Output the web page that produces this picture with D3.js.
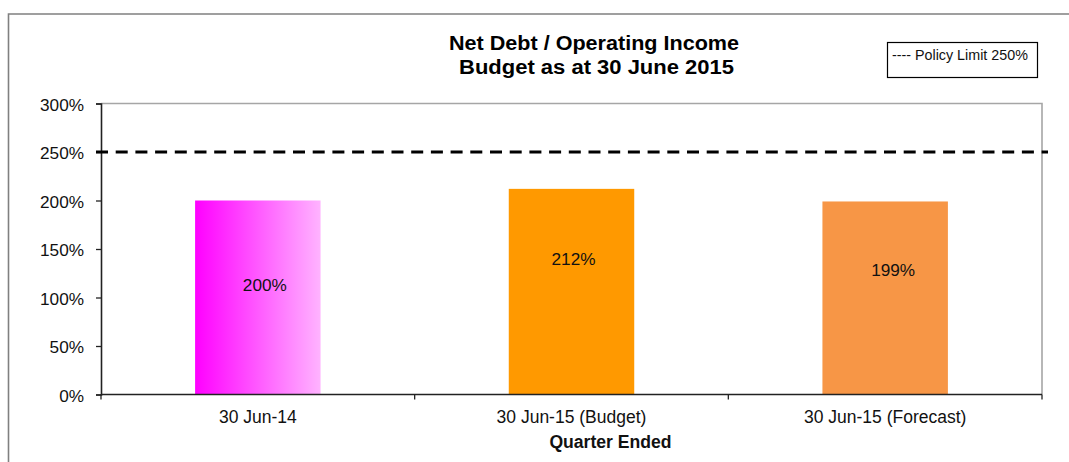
<!DOCTYPE html>
<html>
<head>
<meta charset="utf-8">
<script src="https://cdn.jsdelivr.net/npm/d3@7"></script>
<style>
  html, body { margin: 0; padding: 0; background: #fff; }
  svg { display: block; font-family: "Liberation Sans", Arial, sans-serif; }
</style>
</head>
<body>
<svg id="chart" width="1069" height="462"></svg>
<script>
// Net debt as a share of operating income, by quarter
const categories = ["30 Jun-14", "30 Jun-15 (Budget)", "30 Jun-15 (Forecast)"];
const ratios = [200, 212, 199];           // percent
const policyLimit = 250;                  // percent
const yTicks = [0, 50, 100, 150, 200, 250, 300];
const titleLines = ["Net Debt / Operating Income", "Budget as at 30 June 2015"];
const xAxisTitle = "Quarter Ended";
const legendText = "---- Policy Limit 250%";

const svg = d3.select("#chart");
const plot = { left: 101, top: 103.5, right: 1042, bottom: 394.5 };

// outer chart frame (runs past the right and bottom edges of the view)
svg.append("path")
  .attr("d", "M8.5,470 V14 H1080")
  .attr("fill", "none").attr("stroke", "#808080").attr("stroke-width", 1.6);

const x = d3.scaleBand().domain(categories).range([plot.left, plot.right]).padding(0);
const y = d3.scaleLinear().domain([0, 300]).range([plot.bottom, plot.top]);

// plot area border: light top and right edges
svg.append("path")
  .attr("d", `M${plot.left},${plot.top} H${plot.right} V${plot.bottom}`)
  .attr("fill", "none").attr("stroke", "#a6a6a6").attr("stroke-width", 1.6);

// first bar gets a horizontal magenta fade
const defs = svg.append("defs");
const grad = defs.append("linearGradient").attr("id", "fadeMagenta")
  .attr("x1", "0%").attr("x2", "100%").attr("y1", "0%").attr("y2", "0%");
grad.append("stop").attr("offset", "0%").attr("stop-color", "#ff00ff");
grad.append("stop").attr("offset", "100%").attr("stop-color", "#ffb3ff");
const fills = ["url(#fadeMagenta)", "#ff9900", "#f79646"];

const barW = x.bandwidth() * 0.4;
svg.append("g").selectAll("rect").data(ratios).join("rect")
  .attr("x", (d, i) => x(categories[i]) + (x.bandwidth() - barW) / 2)
  .attr("y", d => y(d))
  .attr("width", barW)
  .attr("height", d => y(0) - y(d))
  .attr("fill", (d, i) => fills[i]);

// value labels inside bars (offsets from bar centre / bar top)
const labelDx = [7, 2, 8];
const labelDy = [90, 76, 75];
svg.append("g").selectAll("text").data(ratios).join("text")
  .attr("x", (d, i) => x(categories[i]) + x.bandwidth() / 2 + labelDx[i])
  .attr("y", (d, i) => y(d) + labelDy[i])
  .attr("text-anchor", "middle")
  .attr("font-size", 17.2).attr("fill", "#111")
  .text(d => d + "%");

// y axis
const yAxis = svg.append("g").attr("transform", `translate(${plot.left},0)`)
  .call(d3.axisLeft(y).tickValues(yTicks).tickFormat(d => d + "%").tickSize(5).tickPadding(12));
yAxis.select(".domain").attr("stroke", "#222").attr("stroke-width", 1.6);
yAxis.selectAll(".tick line").attr("stroke", "#222").attr("stroke-width", 1.3);
yAxis.selectAll(".tick text").attr("font-size", 17.2).attr("fill", "#111")
  .attr("font-family", "Liberation Sans, Arial, sans-serif").attr("dy", "0.38em");

// x axis: ticks at category boundaries
svg.append("line")
  .attr("x1", plot.left).attr("x2", plot.right).attr("y1", plot.bottom).attr("y2", plot.bottom)
  .attr("stroke", "#222").attr("stroke-width", 1.6);
const bounds = categories.map(c => x(c)).concat([x(categories[categories.length - 1]) + x.bandwidth()]);
svg.append("g").selectAll("line").data(bounds).join("line")
  .attr("x1", d => d).attr("x2", d => d)
  .attr("y1", plot.bottom).attr("y2", plot.bottom + 5)
  .attr("stroke", "#222").attr("stroke-width", 1.3);
svg.append("g").selectAll("text").data(categories).join("text")
  .attr("x", d => x(d) + x.bandwidth() / 2)
  .attr("y", plot.bottom + 28.5)
  .attr("text-anchor", "middle")
  .attr("font-size", 17.5).attr("fill", "#111")
  .text(d => d);

svg.append("text")
  .attr("x", 610.5).attr("y", 447.5)
  .attr("text-anchor", "middle")
  .attr("font-size", 17.6).attr("font-weight", "bold").attr("fill", "#111")
  .text(xAxisTitle);

// policy limit line
svg.append("line")
  .attr("x1", 96).attr("x2", 1048)
  .attr("y1", y(policyLimit)).attr("y2", y(policyLimit))
  .attr("stroke", "#000").attr("stroke-width", 3)
  .attr("stroke-dasharray", "12,7.7");

// title
const titleWidths = [290, 275];
svg.append("g").selectAll("text").data(titleLines).join("text")
  .attr("x", (d, i) => i === 0 ? 449 : 459)
  .attr("y", (d, i) => i === 0 ? 50 : 74)
  .attr("font-size", 19.5).attr("font-weight", "bold").attr("fill", "#000")
  .attr("textLength", (d, i) => titleWidths[i])
  .attr("lengthAdjust", "spacingAndGlyphs")
  .text(d => d);

// legend box
svg.append("rect")
  .attr("x", 887.5).attr("y", 42.5).attr("width", 150).attr("height", 35)
  .attr("fill", "#fff").attr("stroke", "#000").attr("stroke-width", 1.2);
svg.append("text")
  .attr("x", 892).attr("y", 60)
  .attr("font-size", 14.3).attr("fill", "#111")
  .text(legendText);
</script>
</body>
</html>
